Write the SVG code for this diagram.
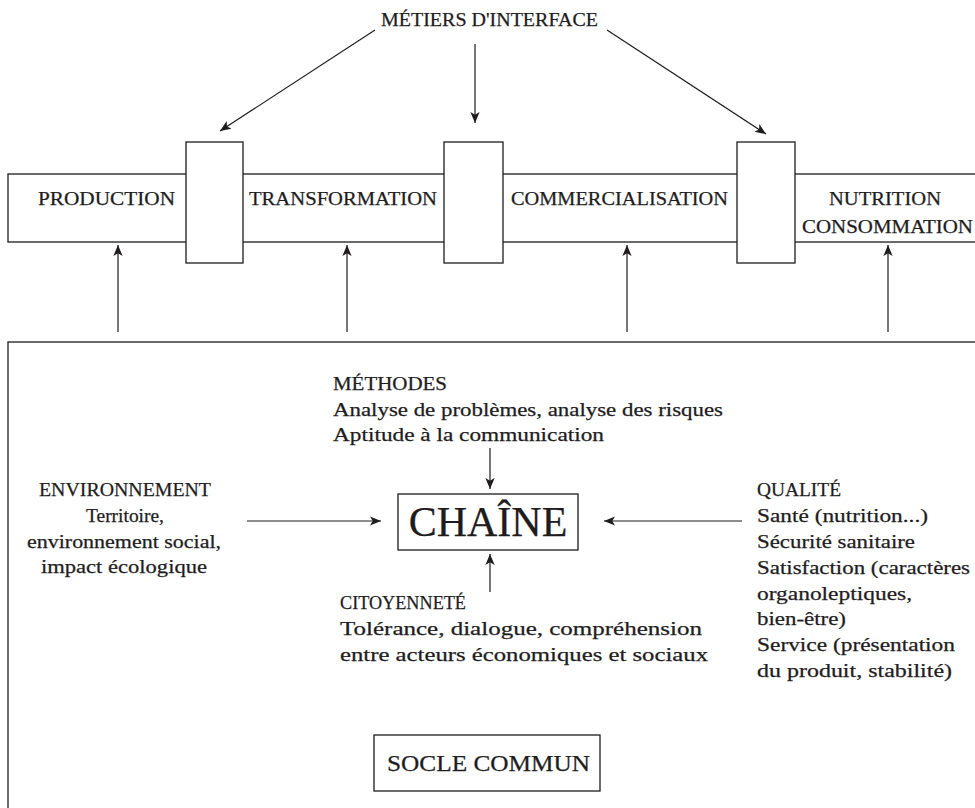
<svg xmlns="http://www.w3.org/2000/svg" width="975" height="808" viewBox="0 0 975 808">
<defs>
<marker id="ah" viewBox="0 0 10 10" refX="10" refY="5" markerWidth="11" markerHeight="11" markerUnits="userSpaceOnUse" orient="auto">
<path d="M0,0.8 L10,5 L0,9.2 L2.5,5 z" fill="#1e1c1d"/>
</marker>
<style>
.b{fill:#fff;stroke:#1e1c1d;stroke-width:1.3}
.t{font-family:"Liberation Serif",serif;fill:#1e1c1d;font-size:19.5px;stroke:#1e1c1d;stroke-width:0.25}
.c{text-anchor:middle}
.l{stroke:#1e1c1d;stroke-width:1.2;fill:none;marker-end:url(#ah)}
</style>
</defs>
<rect width="975" height="808" fill="#fff"/>
<g id="socle">
<rect class="b" x="8" y="342" width="980" height="480"/>
</g>
<g id="band">
<rect class="b" x="8" y="174" width="980" height="68"/>
<text class="t" x="38" y="205" textLength="137" lengthAdjust="spacingAndGlyphs">PRODUCTION</text>
<text class="t" x="249" y="205" textLength="188" lengthAdjust="spacingAndGlyphs">TRANSFORMATION</text>
<text class="t" x="511" y="205" textLength="217" lengthAdjust="spacingAndGlyphs">COMMERCIALISATION</text>
<text class="t" x="829" y="205" textLength="112" lengthAdjust="spacingAndGlyphs">NUTRITION</text>
<text class="t" x="802" y="233" textLength="171" lengthAdjust="spacingAndGlyphs">CONSOMMATION</text>
</g>
<g id="interface1"><rect class="b" x="186" y="142" width="57" height="121"/></g>
<g id="interface2"><rect class="b" x="444" y="142" width="59" height="121"/></g>
<g id="interface3"><rect class="b" x="737" y="142" width="58" height="121"/></g>
<g id="metiers"><text class="t" x="381" y="26" textLength="217" lengthAdjust="spacingAndGlyphs">MÉTIERS D'INTERFACE</text></g>
<g id="methodes">
<text class="t" x="333" y="390" textLength="114" lengthAdjust="spacingAndGlyphs">MÉTHODES</text>
<text class="t" x="333" y="416" textLength="390" lengthAdjust="spacingAndGlyphs">Analyse de problèmes, analyse des risques</text>
<text class="t" x="333" y="441" textLength="271" lengthAdjust="spacingAndGlyphs">Aptitude à la communication</text>
</g>
<g id="chaine">
<rect class="b" x="398" y="494" width="180" height="56"/>
<text class="t c" x="488" y="536" style="font-size:42px">CHAÎNE</text>
</g>
<g id="environnement">
<text class="t" x="39" y="496" textLength="172" lengthAdjust="spacingAndGlyphs">ENVIRONNEMENT</text>
<text class="t" x="86" y="522" textLength="78" lengthAdjust="spacingAndGlyphs">Territoire,</text>
<text class="t" x="27" y="548" textLength="194" lengthAdjust="spacingAndGlyphs">environnement social,</text>
<text class="t" x="41" y="573" textLength="166" lengthAdjust="spacingAndGlyphs">impact écologique</text>
</g>
<g id="qualite">
<text class="t" x="757" y="496" textLength="84" lengthAdjust="spacingAndGlyphs">QUALITÉ</text>
<text class="t" x="757" y="522" textLength="171" lengthAdjust="spacingAndGlyphs">Santé (nutrition...)</text>
<text class="t" x="757" y="548" textLength="158" lengthAdjust="spacingAndGlyphs">Sécurité sanitaire</text>
<text class="t" x="757" y="574" textLength="213" lengthAdjust="spacingAndGlyphs">Satisfaction (caractères</text>
<text class="t" x="757" y="600" textLength="155" lengthAdjust="spacingAndGlyphs">organoleptiques,</text>
<text class="t" x="757" y="625" textLength="89" lengthAdjust="spacingAndGlyphs">bien-être)</text>
<text class="t" x="757" y="651" textLength="198" lengthAdjust="spacingAndGlyphs">Service (présentation</text>
<text class="t" x="757" y="677" textLength="195" lengthAdjust="spacingAndGlyphs">du produit, stabilité)</text>
</g>
<g id="citoyennete">
<text class="t" x="340" y="609" textLength="126" lengthAdjust="spacingAndGlyphs">CITOYENNETÉ</text>
<text class="t" x="340" y="635" textLength="362" lengthAdjust="spacingAndGlyphs">Tolérance, dialogue, compréhension</text>
<text class="t" x="340" y="661" textLength="368" lengthAdjust="spacingAndGlyphs">entre acteurs économiques et sociaux</text>
</g>
<g id="soclecommun">
<rect class="b" x="374" y="735" width="226" height="56"/>
<text class="t" x="387" y="771" style="font-size:24px" textLength="203" lengthAdjust="spacingAndGlyphs">SOCLE COMMUN</text>
</g>
<g id="connectors">
<line class="l" x1="375" y1="30" x2="220" y2="131"/>
<line class="l" x1="475" y1="44" x2="475" y2="123"/>
<line class="l" x1="607" y1="30" x2="766" y2="134"/>
<line class="l" x1="118" y1="332" x2="118" y2="245"/>
<line class="l" x1="347" y1="332" x2="347" y2="245"/>
<line class="l" x1="627" y1="332" x2="627" y2="245"/>
<line class="l" x1="888" y1="332" x2="888" y2="245"/>
<line class="l" x1="490" y1="448" x2="490" y2="489"/>
<line class="l" x1="490" y1="592" x2="490" y2="554"/>
<line class="l" x1="247" y1="521" x2="381" y2="521"/>
<line class="l" x1="742" y1="521" x2="604" y2="521"/>
</g>
</svg>
